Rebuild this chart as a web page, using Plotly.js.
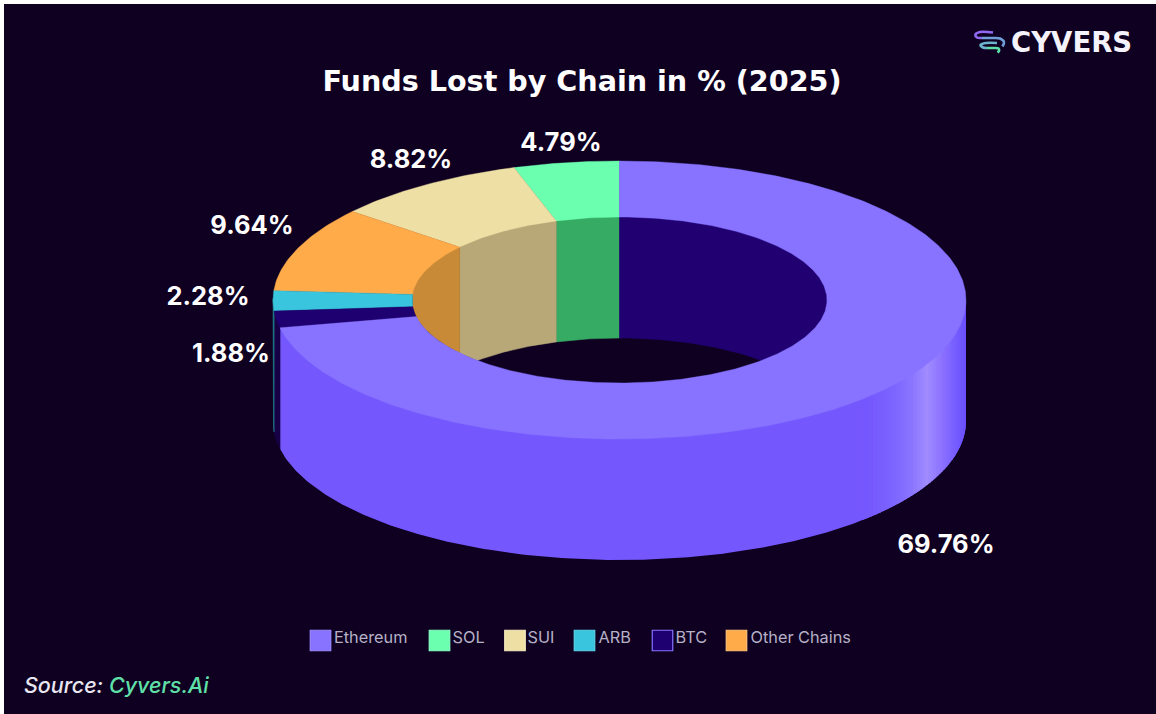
<!DOCTYPE html>
<html>
<head>
<meta charset="utf-8">
<script src="https://cdn.plot.ly/plotly-3.0.1.min.js"></script>
<style>html,body{margin:0;padding:0;background:#fff}</style>
</head>
<body>
<div id="chart" style="width:1156px;height:714px"></div>
<script>
// Chain shares as published (legend order)
const chains = ["Ethereum", "SOL", "SUI", "ARB", "BTC", "Other Chains"];
const shares = [69.76, 4.79, 8.82, 2.28, 1.88, 9.64];

// Sequence of the slices counter-clockwise from 12 o'clock, Ethereum closes the ring
const ringOrder = ["SOL", "SUI", "Other Chains", "ARB", "BTC", "Ethereum"];

const topColors = ["#8773ff", "#6bffb0", "#eedfa5", "#38c5dd", "#1f0070", "#ffab4a"];
const innerColors = ["#210072", "#36ab63", "#b8a878", "#2a8ea0", "#16004f", "#c98a38"];
const sideColors = ["#7558fd", "#3fcf88", "#c9b980", "#1f7a8a", "#170045", "#d18a35"];

// Label anchors for each chain (legend order)
const labelX = [946, 561, 411, 208, 231, 252];
const labelY = [547, 145, 162, 299, 356, 228];

// Ring geometry in plot units
const cx = 619.5, cy = 300, outerA = 346.5, outerB = 139, innerA = 207.5, innerB = 83, depth = 121;
const bg = "#0f0022";
const rad = Math.PI / 180;
const tuck = 1.5; // walls start slightly under the top face so no seam shows

const ptOn = (a, b, t, dy = 0) => [cx + a * Math.sin(t * rad), cy - b * Math.cos(t * rad) + dy];

// Fine sampling along an arc, end points included
function arc(a, b, t0, t1, dy = 0) {
  const n = Math.max(2, Math.ceil(Math.abs(t1 - t0) / 0.75));
  const out = [];
  for (let i = 0; i <= n; i++) out.push(ptOn(a, b, t0 + (t1 - t0) * i / n, dy));
  return out;
}

function polygon(points, color, extra) {
  const pts = points.concat([points[0]]);
  return Object.assign({
    type: "scatter", mode: "lines", fill: "toself", fillcolor: color,
    x: pts.map(p => p[0]), y: pts.map(p => p[1]),
    line: { width: 0, color: color }, hoverinfo: "skip", showlegend: false
  }, extra || {});
}

// Turn shares into clockwise angle spans; the ring is normalised to the sum of the shares
const total = shares.reduce((s, v) => s + v, 0);
const spans = {};
let cursor = 0;
ringOrder.forEach(name => {
  const sweep = shares[chains.indexOf(name)] / total * 360;
  spans[name] = [cursor - sweep, cursor];
  cursor -= sweep;
});
const ethSpan = spans["Ethereum"];

const traces = [];

// Outer wall: only the part facing the viewer (clockwise angle 90..270)
function outerWall(t0, t1, color, extra) {
  const a = arc(outerA, outerB, t0, t1, -tuck);
  const b = arc(outerA, outerB, t1, t0, depth);
  traces.push(polygon(a.concat(b), color, extra));
}

// Shading of the Ethereum wall, given as colour stops along screen x
const shadeStops = [[966, [106, 79, 255]], [955, [118, 94, 255]], [943, [138, 112, 255]], [927, [160, 140, 255]],
                    [913, [139, 118, 255]], [893, [124, 100, 255]], [868, [117, 88, 253]]];
function shadeAt(x) {
  for (let i = 0; i < shadeStops.length - 1; i++) {
    const [x0, c0] = shadeStops[i], [x1, c1] = shadeStops[i + 1];
    if (x <= x0 && x >= x1) {
      const f = (x0 - x) / (x0 - x1);
      return "rgb(" + c0.map((v, k) => Math.round(v + (c1[k] - v) * f)).join(",") + ")";
    }
  }
  return sideColors[0];
}

// Base colour of the front wall, then the highlighted bands on top of it
const ethEnd = ethSpan[1] + 360; // clockwise angle where the Ethereum slice stops
outerWall(90, ethEnd, sideColors[0]);
const bandEnd = Math.asin((868 - cx) / outerA) / rad;
for (let t = 90; t < 180 - bandEnd; t += 1) {
  const x = ptOn(outerA, outerB, t + 0.5)[0];
  outerWall(t, t + 1.5, shadeAt(x));
}

// Slivers of the small slices that turn past the leftmost point of the ring
["BTC", "ARB"].forEach(name => {
  const i = chains.indexOf(name);
  const [s0, s1] = spans[name];
  const from = Math.max(s0, -270), to = Math.min(s1, -90);
  if (to > from) outerWall(from + 360, to + 360, sideColors[i], { line: { width: 0.6, color: sideColors[i] } });
});

// Inner wall: far half of the hole, cut off by the near rim of the hole
function innerWall(t0, t1, color) {
  const top = arc(innerA, innerB, t0, t1, -tuck);
  const bottom = top.slice().reverse().map(p => {
    const rimY = p[1] + tuck;
    return [p[0], Math.min(rimY + depth, 2 * cy - rimY)];
  });
  traces.push(polygon(top.concat(bottom), color, { line: { width: 0.5, color: color } }));
}
ringOrder.forEach(name => {
  const i = chains.indexOf(name);
  const [s0, s1] = spans[name];
  if (name === "Ethereum") innerWall(0, 90, innerColors[i]);
  else if (s0 < 90 && s1 > -90) innerWall(Math.max(s0, -90), Math.min(s1, 90), innerColors[i]);
});

// Top face of the ring
ringOrder.forEach(name => {
  const i = chains.indexOf(name);
  const [s0, s1] = spans[name];
  const a = arc(outerA, outerB, s0, s1);
  const b = arc(innerA, innerB, s1, s0);
  traces.push(polygon(a.concat(b), topColors[i], { line: { width: 0.4, color: topColors[i] } }));
});

// Value labels
traces.push({
  type: "scatter", mode: "text", x: labelX, y: labelY,
  text: shares.map(v => v.toFixed(2) + "%"),
  textposition: "middle center",
  textfont: { family: "Inter, Lato, sans-serif", size: 25.5, color: "#ffffff", weight: 700 },
  hoverinfo: "skip", showlegend: false
});

// Legend row: swatches and names
const legendSwatchX = [320.5, 439.5, 515, 584.5, 662.5, 736.5];
const legendTextX = [334, 452.5, 527.5, 598.5, 675.5, 750.5];
const legendY = 639;
traces.push({
  type: "scatter", mode: "markers", x: legendSwatchX, y: legendSwatchX.map(() => legendY + 1.5),
  marker: {
    symbol: "square", size: 20.5, color: topColors,
    line: { width: 1.2, color: ["#9a8aff", "#8affc4", "#f5ebc0", "#5bd3e8", "#8773ff", "#ffc077"] }
  },
  hoverinfo: "skip", showlegend: false
});
traces.push({
  type: "scatter", mode: "text", x: legendTextX, y: legendSwatchX.map(() => legendY),
  text: chains, textposition: "middle right",
  textfont: { family: "Inter, Lato, sans-serif", size: 16.3, color: "#b6b2c6" },
  hoverinfo: "skip", showlegend: false
});

// Brand mark: stacked rounded strokes fading from violet to green
const markStrokes = [
  { x: [993, 980, 975.5, 977, 982], y: [32.5, 32, 34.5, 37.5, 38], c: "#9068f2" },
  { x: [982, 993, 1000, 1004, 1002.5], y: [38, 38, 38.5, 42, 46.5], c: "#6f9fd6" },
  { x: [997, 986, 980.5, 983, 987], y: [43, 43, 45, 47.5, 48], c: "#6cb4cc" },
  { x: [987, 994, 998.5, 999, 997.5], y: [48, 48, 48.5, 51, 52.5], c: "#5de0a8" }
];
markStrokes.forEach(s => traces.push({
  type: "scatter", mode: "lines", x: s.x, y: s.y,
  line: { width: 2.6, color: s.c, shape: "spline" }, hoverinfo: "skip", showlegend: false
}));

const layout = {
  width: 1156, height: 714,
  margin: { l: 4, r: 0, t: 4, b: 0, pad: 0 },
  paper_bgcolor: "#ffffff", plot_bgcolor: bg,
  showlegend: false,
  title: {
    text: "Funds Lost by Chain in % (2025)",
    x: 580 / 1156, xanchor: "center", xref: "paper",
    y: 1 - 81 / 714, yanchor: "middle", yref: "container",
    font: { family: "DejaVu Sans, Inter, sans-serif", size: 28.6, color: "#ffffff", weight: 700 }
  },
  xaxis: { range: [4, 1156], visible: false, fixedrange: true },
  yaxis: { range: [714, 4], visible: false, fixedrange: true },
  annotations: [
    {
      xref: "x", yref: "y", x: 1009, y: 42, xanchor: "left", yanchor: "middle", showarrow: false,
      text: "<b>CYVERS</b>",
      font: { family: "DejaVu Sans, Inter, sans-serif", size: 27.5, color: "#f4f2fa" }
    },
    {
      xref: "x", yref: "y", x: 22, y: 685, xanchor: "left", yanchor: "middle", showarrow: false,
      text: '<i>Source: <span style="color:#5fe0a8">Cyvers.Ai</span></i>',
      font: { family: "Inter, Lato, sans-serif", size: 21.5, color: "#e8e6f0", weight: 500 }
    }
  ]
};

Plotly.newPlot("chart", traces, layout, { displayModeBar: false, staticPlot: true });
</script>
</body>
</html>
